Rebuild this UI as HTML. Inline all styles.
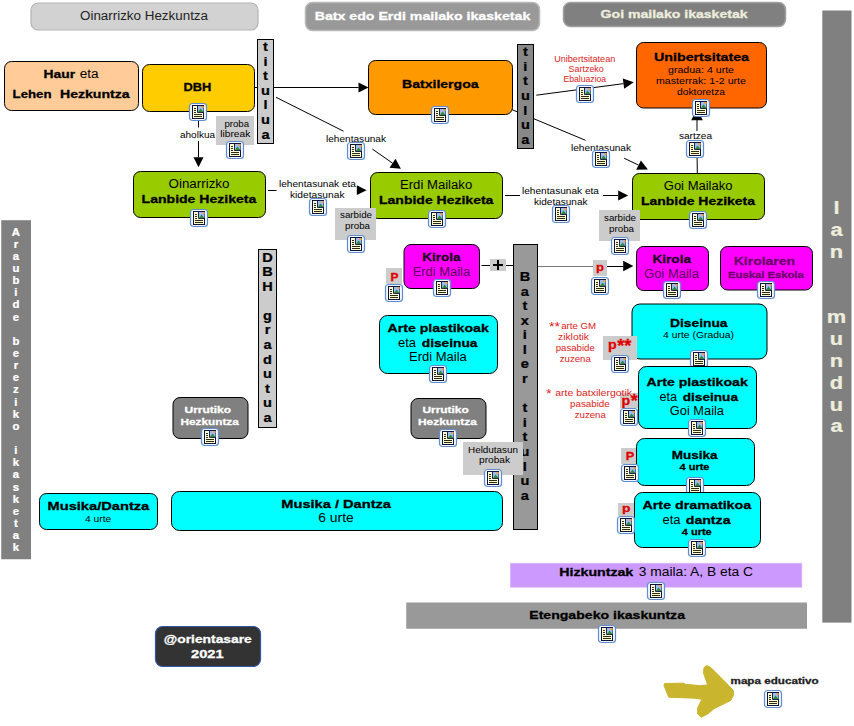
<!DOCTYPE html>
<html><head><meta charset="utf-8"><title>mapa</title>
<style>html,body{margin:0;padding:0;background:#fff}svg{display:block}text{font-family:"Liberation Sans",sans-serif}</style>
</head><body>
<svg width="854" height="726" viewBox="0 0 854 726">
<defs>
<symbol id="ic" width="18" height="18" viewBox="0 0 18 18" overflow="visible">
<rect x="0.5" y="0.5" width="17" height="17" rx="3" ry="3" fill="#f2f8ff" stroke="#5f8dd4" stroke-width="1.2"/>
<rect x="3.5" y="2.5" width="11" height="13" fill="#ffffd6" stroke="#12123c" stroke-width="1"/>
<rect x="9" y="3" width="5.5" height="6" fill="#9dbcf0"/>
<polygon points="9,9 11.5,5.5 14.5,9" fill="#2e8b3a"/>
<rect x="12.5" y="3" width="2" height="2" fill="#f4a040"/>
<path d="M8.5 3V9.5H14.5" fill="none" stroke="#22224a" stroke-width="1"/>
<path d="M5 5.5h2M5 7.5h2M5 9.5h2M5 11.5h8M5 13.5h8" stroke="#2a2a10" stroke-width="1" fill="none"/>
</symbol>
</defs>
<rect width="854" height="726" fill="#fff"/>
<rect x="31.00" y="3.00" width="227.00" height="27.00" rx="7" ry="7" fill="#d2d2d2" stroke="#b4b4b4" stroke-width="1.2"/>
<text x="80.00" y="20.25" textLength="128.00" lengthAdjust="spacingAndGlyphs" font-size="12.42" fill="#222">Oinarrizko Hezkuntza</text>
<rect x="305.50" y="2.50" width="234.00" height="28.00" rx="7" ry="7" fill="#999999" stroke="#b8b8b8" stroke-width="1.5"/>
<text x="314.70" y="19.85" textLength="215.60" lengthAdjust="spacingAndGlyphs" font-size="11.70" font-weight="bold" stroke="#fff" stroke-width="0.3" fill="#fff">Batx edo Erdi mailako ikasketak</text>
<rect x="563.50" y="2.50" width="222.00" height="24.00" rx="7" ry="7" fill="#808080" stroke="#a0a0a0" stroke-width="1.5"/>
<text x="600.60" y="17.65" textLength="147.00" lengthAdjust="spacingAndGlyphs" font-size="11.70" font-weight="bold" stroke="#eeeedd" stroke-width="0.3" fill="#eeeedd">Goi mailako ikasketak</text>
<rect x="1.25" y="220.20" width="29.75" height="339.05" fill="#808080"/>
<text transform="translate(15.90,235.60) scale(1.1,1)" text-anchor="middle" font-size="10.30" font-weight="bold" fill="#fff" stroke="#fff" stroke-width="0.25">A</text>
<text transform="translate(15.90,247.74) scale(1.1,1)" text-anchor="middle" font-size="10.30" font-weight="bold" fill="#fff" stroke="#fff" stroke-width="0.25">r</text>
<text transform="translate(15.90,259.88) scale(1.1,1)" text-anchor="middle" font-size="10.30" font-weight="bold" fill="#fff" stroke="#fff" stroke-width="0.25">a</text>
<text transform="translate(15.90,272.02) scale(1.1,1)" text-anchor="middle" font-size="10.30" font-weight="bold" fill="#fff" stroke="#fff" stroke-width="0.25">u</text>
<text transform="translate(15.90,284.16) scale(1.1,1)" text-anchor="middle" font-size="10.30" font-weight="bold" fill="#fff" stroke="#fff" stroke-width="0.25">b</text>
<text transform="translate(15.90,296.30) scale(1.1,1)" text-anchor="middle" font-size="10.30" font-weight="bold" fill="#fff" stroke="#fff" stroke-width="0.25">i</text>
<text transform="translate(15.90,308.44) scale(1.1,1)" text-anchor="middle" font-size="10.30" font-weight="bold" fill="#fff" stroke="#fff" stroke-width="0.25">d</text>
<text transform="translate(15.90,320.58) scale(1.1,1)" text-anchor="middle" font-size="10.30" font-weight="bold" fill="#fff" stroke="#fff" stroke-width="0.25">e</text>
<text transform="translate(15.90,344.86) scale(1.1,1)" text-anchor="middle" font-size="10.30" font-weight="bold" fill="#fff" stroke="#fff" stroke-width="0.25">b</text>
<text transform="translate(15.90,357.00) scale(1.1,1)" text-anchor="middle" font-size="10.30" font-weight="bold" fill="#fff" stroke="#fff" stroke-width="0.25">e</text>
<text transform="translate(15.90,369.14) scale(1.1,1)" text-anchor="middle" font-size="10.30" font-weight="bold" fill="#fff" stroke="#fff" stroke-width="0.25">r</text>
<text transform="translate(15.90,381.28) scale(1.1,1)" text-anchor="middle" font-size="10.30" font-weight="bold" fill="#fff" stroke="#fff" stroke-width="0.25">e</text>
<text transform="translate(15.90,393.42) scale(1.1,1)" text-anchor="middle" font-size="10.30" font-weight="bold" fill="#fff" stroke="#fff" stroke-width="0.25">z</text>
<text transform="translate(15.90,405.56) scale(1.1,1)" text-anchor="middle" font-size="10.30" font-weight="bold" fill="#fff" stroke="#fff" stroke-width="0.25">i</text>
<text transform="translate(15.90,417.70) scale(1.1,1)" text-anchor="middle" font-size="10.30" font-weight="bold" fill="#fff" stroke="#fff" stroke-width="0.25">k</text>
<text transform="translate(15.90,429.84) scale(1.1,1)" text-anchor="middle" font-size="10.30" font-weight="bold" fill="#fff" stroke="#fff" stroke-width="0.25">o</text>
<text transform="translate(15.90,454.12) scale(1.1,1)" text-anchor="middle" font-size="10.30" font-weight="bold" fill="#fff" stroke="#fff" stroke-width="0.25">i</text>
<text transform="translate(15.90,466.26) scale(1.1,1)" text-anchor="middle" font-size="10.30" font-weight="bold" fill="#fff" stroke="#fff" stroke-width="0.25">k</text>
<text transform="translate(15.90,478.40) scale(1.1,1)" text-anchor="middle" font-size="10.30" font-weight="bold" fill="#fff" stroke="#fff" stroke-width="0.25">a</text>
<text transform="translate(15.90,490.54) scale(1.1,1)" text-anchor="middle" font-size="10.30" font-weight="bold" fill="#fff" stroke="#fff" stroke-width="0.25">s</text>
<text transform="translate(15.90,502.68) scale(1.1,1)" text-anchor="middle" font-size="10.30" font-weight="bold" fill="#fff" stroke="#fff" stroke-width="0.25">k</text>
<text transform="translate(15.90,514.82) scale(1.1,1)" text-anchor="middle" font-size="10.30" font-weight="bold" fill="#fff" stroke="#fff" stroke-width="0.25">e</text>
<text transform="translate(15.90,526.96) scale(1.1,1)" text-anchor="middle" font-size="10.30" font-weight="bold" fill="#fff" stroke="#fff" stroke-width="0.25">t</text>
<text transform="translate(15.90,539.10) scale(1.1,1)" text-anchor="middle" font-size="10.30" font-weight="bold" fill="#fff" stroke="#fff" stroke-width="0.25">a</text>
<text transform="translate(15.90,551.24) scale(1.1,1)" text-anchor="middle" font-size="10.30" font-weight="bold" fill="#fff" stroke="#fff" stroke-width="0.25">k</text>
<rect x="822.30" y="10.50" width="29.20" height="612.10" fill="#808080"/>
<text transform="translate(836.50,214.30) scale(1.18,1)" text-anchor="middle" font-size="18.50" font-weight="bold" fill="#eeeedd" stroke="#eeeedd" stroke-width="0.25">l</text>
<text transform="translate(836.50,236.10) scale(1.18,1)" text-anchor="middle" font-size="18.50" font-weight="bold" fill="#eeeedd" stroke="#eeeedd" stroke-width="0.25">a</text>
<text transform="translate(836.50,257.90) scale(1.18,1)" text-anchor="middle" font-size="18.50" font-weight="bold" fill="#eeeedd" stroke="#eeeedd" stroke-width="0.25">n</text>
<text transform="translate(836.50,323.30) scale(1.18,1)" text-anchor="middle" font-size="18.50" font-weight="bold" fill="#eeeedd" stroke="#eeeedd" stroke-width="0.25">m</text>
<text transform="translate(836.50,345.10) scale(1.18,1)" text-anchor="middle" font-size="18.50" font-weight="bold" fill="#eeeedd" stroke="#eeeedd" stroke-width="0.25">u</text>
<text transform="translate(836.50,366.90) scale(1.18,1)" text-anchor="middle" font-size="18.50" font-weight="bold" fill="#eeeedd" stroke="#eeeedd" stroke-width="0.25">n</text>
<text transform="translate(836.50,388.70) scale(1.18,1)" text-anchor="middle" font-size="18.50" font-weight="bold" fill="#eeeedd" stroke="#eeeedd" stroke-width="0.25">d</text>
<text transform="translate(836.50,410.50) scale(1.18,1)" text-anchor="middle" font-size="18.50" font-weight="bold" fill="#eeeedd" stroke="#eeeedd" stroke-width="0.25">u</text>
<text transform="translate(836.50,432.30) scale(1.18,1)" text-anchor="middle" font-size="18.50" font-weight="bold" fill="#eeeedd" stroke="#eeeedd" stroke-width="0.25">a</text>
<line x1="198.50" y1="112.00" x2="198.50" y2="127.50" stroke="#000" stroke-width="1"/>
<line x1="198.50" y1="141.00" x2="198.50" y2="157.30" stroke="#000" stroke-width="1"/>
<polygon points="198.50,167.30 193.50,157.30 203.50,157.30" fill="#000"/>
<line x1="254.80" y1="87.50" x2="257.00" y2="87.50" stroke="#000" stroke-width="1"/>
<line x1="274.00" y1="87.50" x2="358.50" y2="87.50" stroke="#000" stroke-width="1"/>
<polygon points="368.50,87.50 358.50,92.50 358.50,82.50" fill="#000"/>
<line x1="276.00" y1="97.30" x2="343.50" y2="131.20" stroke="#000" stroke-width="1"/>
<line x1="372.40" y1="149.10" x2="392.50" y2="163.10" stroke="#000" stroke-width="1"/>
<polygon points="395.50,158.80 389.60,167.80 400.90,168.80" fill="#000"/>
<line x1="512.40" y1="109.80" x2="585.50" y2="140.30" stroke="#000" stroke-width="1"/>
<line x1="624.10" y1="158.20" x2="638.50" y2="165.10" stroke="#000" stroke-width="1"/>
<polygon points="640.90,160.50 636.20,169.75 647.90,169.60" fill="#000"/>
<line x1="536.30" y1="95.20" x2="623.49" y2="83.65" stroke="#000" stroke-width="1"/>
<polygon points="633.70,82.30 624.16,88.71 622.82,78.60" fill="#000"/>
<line x1="697.30" y1="173.00" x2="697.10" y2="157.00" stroke="#000" stroke-width="1"/>
<line x1="697.00" y1="131.00" x2="697.00" y2="120.00" stroke="#000" stroke-width="1"/>
<polygon points="697.00,108.50 691.20,120.20 702.80,120.20" fill="#000"/>
<line x1="268.00" y1="190.50" x2="276.50" y2="190.50" stroke="#000" stroke-width="1"/>
<polygon points="366.60,190.20 356.80,185.30 356.80,195.10" fill="#000"/>
<line x1="505.00" y1="195.50" x2="520.00" y2="195.50" stroke="#000" stroke-width="1"/>
<line x1="603.00" y1="195.50" x2="618.20" y2="195.50" stroke="#000" stroke-width="1"/>
<polygon points="628.20,195.50 618.20,200.50 618.20,190.50" fill="#000"/>
<line x1="481.50" y1="265.50" x2="490.00" y2="265.50" stroke="#000" stroke-width="1"/>
<line x1="506.00" y1="265.50" x2="513.50" y2="265.50" stroke="#000" stroke-width="1"/>
<line x1="537.80" y1="266.50" x2="594.00" y2="266.50" stroke="#777" stroke-width="1"/>
<line x1="606.00" y1="266.50" x2="623.50" y2="266.50" stroke="#000" stroke-width="1"/>
<polygon points="633.40,266.00 623.20,260.70 623.20,271.20" fill="#000"/>
<rect x="4.50" y="61.50" width="134.00" height="49.00" rx="7" ry="7" fill="#ffcc99" stroke="#000" stroke-width="1"/>
<text x="43.60" y="78.05" textLength="31.60" lengthAdjust="spacingAndGlyphs" font-size="11.70" font-weight="bold" stroke="#000" stroke-width="0.3" fill="#000">Haur</text>
<text x="79.70" y="78.05" textLength="18.90" lengthAdjust="spacingAndGlyphs" font-size="12.42" fill="#000">eta</text>
<text x="12.60" y="97.95" textLength="38.90" lengthAdjust="spacingAndGlyphs" font-size="11.70" font-weight="bold" stroke="#000" stroke-width="0.3" fill="#000">Lehen</text>
<text x="60.00" y="97.95" textLength="69.60" lengthAdjust="spacingAndGlyphs" font-size="11.70" font-weight="bold" stroke="#000" stroke-width="0.3" fill="#000">Hezkuntza</text>
<rect x="142.50" y="64.50" width="112.00" height="47.00" rx="7" ry="7" fill="#ffcc00" stroke="#000" stroke-width="1"/>
<text x="183.40" y="90.65" textLength="27.80" lengthAdjust="spacingAndGlyphs" font-size="11.70" font-weight="bold" stroke="#000" stroke-width="0.3" fill="#000">DBH</text>
<rect x="368.50" y="60.50" width="144.00" height="54.00" rx="7" ry="7" fill="#ff9900" stroke="#000" stroke-width="1"/>
<text x="402.00" y="87.85" textLength="76.60" lengthAdjust="spacingAndGlyphs" font-size="11.70" font-weight="bold" stroke="#000" stroke-width="0.3" fill="#000">Batxilergoa</text>
<rect x="636.50" y="42.50" width="130.00" height="65.50" rx="7" ry="7" fill="#ff6600" stroke="#000" stroke-width="1"/>
<text x="654.00" y="61.25" textLength="95.00" lengthAdjust="spacingAndGlyphs" font-size="11.70" font-weight="bold" stroke="#000" stroke-width="0.3" fill="#000">Unibertsitatea</text>
<text x="668.00" y="73.05" textLength="66.00" lengthAdjust="spacingAndGlyphs" font-size="9.31" fill="#000">gradua: 4 urte</text>
<text x="656.00" y="83.85" textLength="90.00" lengthAdjust="spacingAndGlyphs" font-size="9.31" fill="#000">masterrak: 1-2 urte</text>
<text x="677.00" y="94.65" textLength="48.00" lengthAdjust="spacingAndGlyphs" font-size="9.31" fill="#000">doktoretza</text>
<rect x="133.50" y="171.50" width="132.00" height="46.00" rx="7" ry="7" fill="#99cc00" stroke="#000" stroke-width="1"/>
<text x="168.60" y="188.05" textLength="60.80" lengthAdjust="spacingAndGlyphs" font-size="12.42" fill="#000">Oinarrizko</text>
<text x="141.60" y="202.85" textLength="114.70" lengthAdjust="spacingAndGlyphs" font-size="11.70" font-weight="bold" stroke="#000" stroke-width="0.3" fill="#000">Lanbide Heziketa</text>
<rect x="370.50" y="172.50" width="132.00" height="46.00" rx="7" ry="7" fill="#99cc00" stroke="#000" stroke-width="1"/>
<text x="400.00" y="188.95" textLength="72.20" lengthAdjust="spacingAndGlyphs" font-size="12.42" fill="#000">Erdi Mailako</text>
<text x="379.00" y="203.85" textLength="114.40" lengthAdjust="spacingAndGlyphs" font-size="11.70" font-weight="bold" stroke="#000" stroke-width="0.3" fill="#000">Lanbide Heziketa</text>
<rect x="632.50" y="173.50" width="132.00" height="46.00" rx="7" ry="7" fill="#99cc00" stroke="#000" stroke-width="1"/>
<text x="663.75" y="189.95" textLength="68.75" lengthAdjust="spacingAndGlyphs" font-size="12.42" fill="#000">Goi Mailako</text>
<text x="641.00" y="204.75" textLength="114.00" lengthAdjust="spacingAndGlyphs" font-size="11.70" font-weight="bold" stroke="#000" stroke-width="0.3" fill="#000">Lanbide Heziketa</text>
<rect x="257.50" y="39.50" width="16.00" height="104.00" fill="#cccccc" stroke="#000" stroke-width="1"/>
<text transform="translate(265.50,50.90) scale(1.12,1)" text-anchor="middle" font-size="13.00" font-weight="bold" fill="#000" stroke="#000" stroke-width="0.25">t</text>
<text transform="translate(265.50,65.50) scale(1.12,1)" text-anchor="middle" font-size="13.00" font-weight="bold" fill="#000" stroke="#000" stroke-width="0.25">i</text>
<text transform="translate(265.50,80.10) scale(1.12,1)" text-anchor="middle" font-size="13.00" font-weight="bold" fill="#000" stroke="#000" stroke-width="0.25">t</text>
<text transform="translate(265.50,94.70) scale(1.12,1)" text-anchor="middle" font-size="13.00" font-weight="bold" fill="#000" stroke="#000" stroke-width="0.25">u</text>
<text transform="translate(265.50,109.30) scale(1.12,1)" text-anchor="middle" font-size="13.00" font-weight="bold" fill="#000" stroke="#000" stroke-width="0.25">l</text>
<text transform="translate(265.50,123.90) scale(1.12,1)" text-anchor="middle" font-size="13.00" font-weight="bold" fill="#000" stroke="#000" stroke-width="0.25">u</text>
<text transform="translate(265.50,138.50) scale(1.12,1)" text-anchor="middle" font-size="13.00" font-weight="bold" fill="#000" stroke="#000" stroke-width="0.25">a</text>
<rect x="517.50" y="44.50" width="16.00" height="104.00" fill="#888888" stroke="#000" stroke-width="1"/>
<text transform="translate(525.40,56.20) scale(1.12,1)" text-anchor="middle" font-size="13.00" font-weight="bold" fill="#000" stroke="#000" stroke-width="0.25">t</text>
<text transform="translate(525.40,70.80) scale(1.12,1)" text-anchor="middle" font-size="13.00" font-weight="bold" fill="#000" stroke="#000" stroke-width="0.25">i</text>
<text transform="translate(525.40,85.40) scale(1.12,1)" text-anchor="middle" font-size="13.00" font-weight="bold" fill="#000" stroke="#000" stroke-width="0.25">t</text>
<text transform="translate(525.40,100.00) scale(1.12,1)" text-anchor="middle" font-size="13.00" font-weight="bold" fill="#000" stroke="#000" stroke-width="0.25">u</text>
<text transform="translate(525.40,114.60) scale(1.12,1)" text-anchor="middle" font-size="13.00" font-weight="bold" fill="#000" stroke="#000" stroke-width="0.25">l</text>
<text transform="translate(525.40,129.20) scale(1.12,1)" text-anchor="middle" font-size="13.00" font-weight="bold" fill="#000" stroke="#000" stroke-width="0.25">u</text>
<text transform="translate(525.40,143.80) scale(1.12,1)" text-anchor="middle" font-size="13.00" font-weight="bold" fill="#000" stroke="#000" stroke-width="0.25">a</text>
<rect x="258.50" y="249.50" width="18.00" height="178.00" fill="#cccccc" stroke="#000" stroke-width="1"/>
<text transform="translate(267.50,261.50) scale(1.12,1)" text-anchor="middle" font-size="13.00" font-weight="bold" fill="#000" stroke="#000" stroke-width="0.25">D</text>
<text transform="translate(267.50,276.08) scale(1.12,1)" text-anchor="middle" font-size="13.00" font-weight="bold" fill="#000" stroke="#000" stroke-width="0.25">B</text>
<text transform="translate(267.50,290.66) scale(1.12,1)" text-anchor="middle" font-size="13.00" font-weight="bold" fill="#000" stroke="#000" stroke-width="0.25">H</text>
<text transform="translate(267.50,319.82) scale(1.12,1)" text-anchor="middle" font-size="13.00" font-weight="bold" fill="#000" stroke="#000" stroke-width="0.25">g</text>
<text transform="translate(267.50,334.40) scale(1.12,1)" text-anchor="middle" font-size="13.00" font-weight="bold" fill="#000" stroke="#000" stroke-width="0.25">r</text>
<text transform="translate(267.50,348.98) scale(1.12,1)" text-anchor="middle" font-size="13.00" font-weight="bold" fill="#000" stroke="#000" stroke-width="0.25">a</text>
<text transform="translate(267.50,363.56) scale(1.12,1)" text-anchor="middle" font-size="13.00" font-weight="bold" fill="#000" stroke="#000" stroke-width="0.25">d</text>
<text transform="translate(267.50,378.14) scale(1.12,1)" text-anchor="middle" font-size="13.00" font-weight="bold" fill="#000" stroke="#000" stroke-width="0.25">u</text>
<text transform="translate(267.50,392.72) scale(1.12,1)" text-anchor="middle" font-size="13.00" font-weight="bold" fill="#000" stroke="#000" stroke-width="0.25">t</text>
<text transform="translate(267.50,407.30) scale(1.12,1)" text-anchor="middle" font-size="13.00" font-weight="bold" fill="#000" stroke="#000" stroke-width="0.25">u</text>
<text transform="translate(267.50,421.88) scale(1.12,1)" text-anchor="middle" font-size="13.00" font-weight="bold" fill="#000" stroke="#000" stroke-width="0.25">a</text>
<rect x="513.50" y="244.50" width="24.00" height="285.00" fill="#999999" stroke="#000" stroke-width="1"/>
<text transform="translate(524.90,281.00) scale(1.12,1)" text-anchor="middle" font-size="13.00" font-weight="bold" fill="#000" stroke="#000" stroke-width="0.25">B</text>
<text transform="translate(524.90,295.58) scale(1.12,1)" text-anchor="middle" font-size="13.00" font-weight="bold" fill="#000" stroke="#000" stroke-width="0.25">a</text>
<text transform="translate(524.90,310.16) scale(1.12,1)" text-anchor="middle" font-size="13.00" font-weight="bold" fill="#000" stroke="#000" stroke-width="0.25">t</text>
<text transform="translate(524.90,324.74) scale(1.12,1)" text-anchor="middle" font-size="13.00" font-weight="bold" fill="#000" stroke="#000" stroke-width="0.25">x</text>
<text transform="translate(524.90,339.32) scale(1.12,1)" text-anchor="middle" font-size="13.00" font-weight="bold" fill="#000" stroke="#000" stroke-width="0.25">i</text>
<text transform="translate(524.90,353.90) scale(1.12,1)" text-anchor="middle" font-size="13.00" font-weight="bold" fill="#000" stroke="#000" stroke-width="0.25">l</text>
<text transform="translate(524.90,368.48) scale(1.12,1)" text-anchor="middle" font-size="13.00" font-weight="bold" fill="#000" stroke="#000" stroke-width="0.25">e</text>
<text transform="translate(524.90,383.06) scale(1.12,1)" text-anchor="middle" font-size="13.00" font-weight="bold" fill="#000" stroke="#000" stroke-width="0.25">r</text>
<text transform="translate(524.90,412.22) scale(1.12,1)" text-anchor="middle" font-size="13.00" font-weight="bold" fill="#000" stroke="#000" stroke-width="0.25">t</text>
<text transform="translate(524.90,426.80) scale(1.12,1)" text-anchor="middle" font-size="13.00" font-weight="bold" fill="#000" stroke="#000" stroke-width="0.25">i</text>
<text transform="translate(524.90,441.38) scale(1.12,1)" text-anchor="middle" font-size="13.00" font-weight="bold" fill="#000" stroke="#000" stroke-width="0.25">t</text>
<text transform="translate(524.90,455.96) scale(1.12,1)" text-anchor="middle" font-size="13.00" font-weight="bold" fill="#000" stroke="#000" stroke-width="0.25">u</text>
<text transform="translate(524.90,470.54) scale(1.12,1)" text-anchor="middle" font-size="13.00" font-weight="bold" fill="#000" stroke="#000" stroke-width="0.25">l</text>
<text transform="translate(524.90,485.12) scale(1.12,1)" text-anchor="middle" font-size="13.00" font-weight="bold" fill="#000" stroke="#000" stroke-width="0.25">u</text>
<text transform="translate(524.90,499.70) scale(1.12,1)" text-anchor="middle" font-size="13.00" font-weight="bold" fill="#000" stroke="#000" stroke-width="0.25">a</text>
<rect x="386.00" y="268.00" width="16.00" height="16.00" fill="#cccccc"/>
<text x="390.50" y="280.85" textLength="8.00" lengthAdjust="spacingAndGlyphs" font-size="11.70" font-weight="bold" stroke="#e00000" stroke-width="0.3" fill="#e00000">P</text>
<rect x="404.00" y="244.50" width="75.50" height="44.00" rx="7" ry="7" fill="#ff00ff" stroke="#000" stroke-width="1"/>
<text x="422.30" y="260.85" textLength="38.20" lengthAdjust="spacingAndGlyphs" font-size="11.70" font-weight="bold" stroke="#1a001a" stroke-width="0.3" fill="#1a001a">Kirola</text>
<text x="412.70" y="275.95" textLength="57.40" lengthAdjust="spacingAndGlyphs" font-size="12.42" fill="#5a005a">Erdi Maila</text>
<rect x="636.50" y="246.50" width="72.00" height="44.00" rx="7" ry="7" fill="#ff00ff" stroke="#000" stroke-width="1"/>
<text x="652.50" y="263.05" textLength="38.50" lengthAdjust="spacingAndGlyphs" font-size="11.70" font-weight="bold" stroke="#1a001a" stroke-width="0.3" fill="#1a001a">Kirola</text>
<text x="644.00" y="278.05" textLength="55.00" lengthAdjust="spacingAndGlyphs" font-size="12.42" fill="#5a005a">Goi Maila</text>
<rect x="720.50" y="246.50" width="92.00" height="43.50" rx="7" ry="7" fill="#ff00ff" stroke="#000" stroke-width="1"/>
<text x="733.75" y="264.75" textLength="61.25" lengthAdjust="spacingAndGlyphs" font-size="11.70" font-weight="bold" stroke="#6a006a" stroke-width="0.3" fill="#6a006a">Kirolaren</text>
<text x="728.00" y="278.05" textLength="75.75" lengthAdjust="spacingAndGlyphs" font-size="9.75" font-weight="bold" stroke="#6a006a" stroke-width="0.3" fill="#6a006a">Euskal Eskola</text>
<rect x="379.50" y="315.50" width="118.00" height="58.00" rx="8" ry="8" fill="#00ffff" stroke="#000" stroke-width="1"/>
<text x="387.50" y="331.90" textLength="101.25" lengthAdjust="spacingAndGlyphs" font-size="11.70" font-weight="bold" stroke="#000" stroke-width="0.3" fill="#000">Arte plastikoak</text>
<text x="398.00" y="346.90" textLength="18.00" lengthAdjust="spacingAndGlyphs" font-size="12.42" fill="#000">eta</text>
<text x="421.75" y="346.90" textLength="55.75" lengthAdjust="spacingAndGlyphs" font-size="11.70" font-weight="bold" stroke="#000" stroke-width="0.3" fill="#000">diseinua</text>
<text x="409.00" y="361.35" textLength="57.75" lengthAdjust="spacingAndGlyphs" font-size="12.42" fill="#000">Erdi Maila</text>
<rect x="632.00" y="304.00" width="135.00" height="55.00" rx="8" ry="8" fill="#00ffff" stroke="#000" stroke-width="1"/>
<text x="670.00" y="326.95" textLength="57.50" lengthAdjust="spacingAndGlyphs" font-size="11.70" font-weight="bold" stroke="#000" stroke-width="0.3" fill="#000">Diseinua</text>
<text x="663.00" y="338.15" textLength="71.00" lengthAdjust="spacingAndGlyphs" font-size="9.31" fill="#000">4 urte (Gradua)</text>
<rect x="603.00" y="336.00" width="34.00" height="24.00" fill="#cccccc"/>
<text x="607.90" y="349.25" textLength="8.70" lengthAdjust="spacingAndGlyphs" font-size="13.65" font-weight="bold" stroke="#e00000" stroke-width="0.3" fill="#e00000">p</text>
<text x="617.30" y="352.05" textLength="14.10" lengthAdjust="spacingAndGlyphs" font-size="18.52" font-weight="bold" stroke="#e00000" stroke-width="0.3" fill="#e00000">**</text>
<rect x="620.00" y="393.00" width="18.00" height="15.00" fill="#cccccc"/>
<text x="621.50" y="405.15" textLength="8.70" lengthAdjust="spacingAndGlyphs" font-size="13.65" font-weight="bold" stroke="#e00000" stroke-width="0.3" fill="#e00000">p</text>
<text x="630.80" y="407.45" textLength="7.00" lengthAdjust="spacingAndGlyphs" font-size="18.52" font-weight="bold" stroke="#e00000" stroke-width="0.3" fill="#e00000">*</text>
<clipPath id="c1"><rect x="680" y="340" width="40" height="26.4"/></clipPath>
<g clip-path="url(#c1)"><use href="#ic" x="690.00" y="350.00"/></g>
<rect x="638.50" y="366.50" width="118.00" height="62.00" rx="8" ry="8" fill="#00ffff" stroke="#000" stroke-width="1"/>
<text x="646.50" y="385.75" textLength="101.25" lengthAdjust="spacingAndGlyphs" font-size="11.70" font-weight="bold" stroke="#000" stroke-width="0.3" fill="#000">Arte plastikoak</text>
<text x="659.50" y="400.95" textLength="17.50" lengthAdjust="spacingAndGlyphs" font-size="12.42" fill="#000">eta</text>
<text x="682.75" y="400.95" textLength="55.25" lengthAdjust="spacingAndGlyphs" font-size="11.70" font-weight="bold" stroke="#000" stroke-width="0.3" fill="#000">diseinua</text>
<text x="669.75" y="415.05" textLength="54.25" lengthAdjust="spacingAndGlyphs" font-size="12.42" fill="#000">Goi Maila</text>
<rect x="621.00" y="448.00" width="18.00" height="16.00" fill="#cccccc"/>
<text x="625.75" y="460.25" textLength="8.50" lengthAdjust="spacingAndGlyphs" font-size="11.70" font-weight="bold" stroke="#e00000" stroke-width="0.3" fill="#e00000">P</text>
<rect x="636.50" y="438.50" width="118.00" height="47.00" rx="8" ry="8" fill="#00ffff" stroke="#000" stroke-width="1"/>
<text x="671.75" y="459.00" textLength="45.75" lengthAdjust="spacingAndGlyphs" font-size="11.70" font-weight="bold" stroke="#000" stroke-width="0.3" fill="#000">Musika</text>
<text x="679.50" y="470.25" textLength="30.00" lengthAdjust="spacingAndGlyphs" font-size="8.78" font-weight="bold" stroke="#000" stroke-width="0.3" fill="#000">4 urte</text>
<use href="#ic" x="686.00" y="477.00"/>
<rect x="618.00" y="503.00" width="16.00" height="13.00" fill="#cccccc"/>
<text x="622.00" y="512.25" textLength="8.50" lengthAdjust="spacingAndGlyphs" font-size="11.70" font-weight="bold" stroke="#e00000" stroke-width="0.3" fill="#e00000">p</text>
<rect x="634.50" y="492.50" width="126.00" height="55.00" rx="8" ry="8" fill="#00ffff" stroke="#000" stroke-width="1"/>
<text x="642.50" y="509.00" textLength="108.75" lengthAdjust="spacingAndGlyphs" font-size="11.70" font-weight="bold" stroke="#000" stroke-width="0.3" fill="#000">Arte dramatikoa</text>
<text x="662.50" y="523.50" textLength="18.00" lengthAdjust="spacingAndGlyphs" font-size="12.42" fill="#000">eta</text>
<text x="685.75" y="523.50" textLength="44.75" lengthAdjust="spacingAndGlyphs" font-size="11.70" font-weight="bold" stroke="#000" stroke-width="0.3" fill="#000">dantza</text>
<text x="681.75" y="534.75" textLength="30.00" lengthAdjust="spacingAndGlyphs" font-size="8.78" font-weight="bold" stroke="#000" stroke-width="0.3" fill="#000">4 urte</text>
<rect x="39.50" y="493.50" width="118.00" height="36.00" rx="7" ry="7" fill="#00ffff" stroke="#000" stroke-width="1"/>
<text x="47.50" y="509.75" textLength="101.75" lengthAdjust="spacingAndGlyphs" font-size="11.70" font-weight="bold" stroke="#000" stroke-width="0.3" fill="#000">Musika/Dantza</text>
<text x="85.00" y="521.50" textLength="26.25" lengthAdjust="spacingAndGlyphs" font-size="9.31" fill="#000">4 urte</text>
<rect x="171.50" y="491.50" width="331.00" height="39.00" rx="8" ry="8" fill="#00ffff" stroke="#000" stroke-width="1"/>
<text x="281.30" y="507.75" textLength="109.70" lengthAdjust="spacingAndGlyphs" font-size="11.70" font-weight="bold" stroke="#000" stroke-width="0.3" fill="#000">Musika / Dantza</text>
<text x="318.20" y="522.25" textLength="35.60" lengthAdjust="spacingAndGlyphs" font-size="12.42" fill="#000">6 urte</text>
<rect x="173.00" y="397.50" width="75.00" height="41.00" rx="7" ry="7" fill="#808080" stroke="#000" stroke-width="1"/>
<text x="184.50" y="412.75" textLength="46.50" lengthAdjust="spacingAndGlyphs" font-size="9.75" font-weight="bold" stroke="#fff" stroke-width="0.3" fill="#fff">Urrutiko</text>
<text x="180.50" y="424.75" textLength="58.25" lengthAdjust="spacingAndGlyphs" font-size="9.75" font-weight="bold" stroke="#fff" stroke-width="0.3" fill="#fff">Hezkuntza</text>
<rect x="411.00" y="398.50" width="75.00" height="40.00" rx="7" ry="7" fill="#808080" stroke="#000" stroke-width="1"/>
<text x="422.50" y="413.25" textLength="46.25" lengthAdjust="spacingAndGlyphs" font-size="9.75" font-weight="bold" stroke="#fff" stroke-width="0.3" fill="#fff">Urrutiko</text>
<text x="418.00" y="425.25" textLength="58.75" lengthAdjust="spacingAndGlyphs" font-size="9.75" font-weight="bold" stroke="#fff" stroke-width="0.3" fill="#fff">Hezkuntza</text>
<rect x="155.50" y="626.50" width="105.00" height="40.00" rx="7" ry="7" fill="#333333" stroke="#3355aa" stroke-width="1.2"/>
<text x="163.75" y="643.05" textLength="88.05" lengthAdjust="spacingAndGlyphs" font-size="11.70" font-weight="bold" stroke="#fff" stroke-width="0.3" fill="#fff">@orientasare</text>
<text x="191.00" y="657.75" textLength="32.60" lengthAdjust="spacingAndGlyphs" font-size="11.70" font-weight="bold" stroke="#fff" stroke-width="0.3" fill="#fff">2021</text>
<rect x="510.40" y="563.30" width="291.40" height="23.90" fill="#cc99ff" stroke="#d9b3ff" stroke-width="0.8"/>
<text x="559.25" y="575.85" textLength="74.00" lengthAdjust="spacingAndGlyphs" font-size="11.70" font-weight="bold" stroke="#000" stroke-width="0.3" fill="#000">Hizkuntzak</text>
<text x="638.75" y="575.85" textLength="114.25" lengthAdjust="spacingAndGlyphs" font-size="12.42" fill="#000">3 maila: A, B eta C</text>
<rect x="406.25" y="602.50" width="400.75" height="26.25" fill="#999999"/>
<text x="529.25" y="618.50" textLength="155.75" lengthAdjust="spacingAndGlyphs" font-size="11.70" font-weight="bold" stroke="#000" stroke-width="0.3" fill="#000">Etengabeko ikaskuntza</text>
<rect x="216.00" y="116.00" width="38.00" height="29.00" fill="#cccccc"/>
<text x="224.50" y="126.50" textLength="24.50" lengthAdjust="spacingAndGlyphs" font-size="9.31" fill="#000">proba</text>
<text x="220.25" y="137.25" textLength="30.00" lengthAdjust="spacingAndGlyphs" font-size="9.31" fill="#000">libreak</text>
<rect x="335.00" y="208.00" width="41.00" height="32.00" fill="#cccccc"/>
<text x="340.00" y="218.25" textLength="32.00" lengthAdjust="spacingAndGlyphs" font-size="9.31" fill="#000">sarbide</text>
<text x="345.00" y="229.25" textLength="25.00" lengthAdjust="spacingAndGlyphs" font-size="9.31" fill="#000">proba</text>
<rect x="599.00" y="210.00" width="41.00" height="31.00" fill="#cccccc"/>
<text x="604.00" y="221.00" textLength="32.00" lengthAdjust="spacingAndGlyphs" font-size="9.31" fill="#000">sarbide</text>
<text x="609.00" y="232.00" textLength="25.00" lengthAdjust="spacingAndGlyphs" font-size="9.31" fill="#000">proba</text>
<rect x="490.00" y="259.00" width="16.00" height="12.00" fill="#cccccc"/>
<rect x="493.00" y="264.00" width="10.00" height="2.00" fill="#000"/>
<rect x="497.00" y="260.00" width="2.00" height="10.00" fill="#000"/>
<rect x="593.00" y="260.00" width="14.00" height="16.00" fill="#cccccc"/>
<text x="596.00" y="271.25" textLength="8.00" lengthAdjust="spacingAndGlyphs" font-size="11.70" font-weight="bold" stroke="#e00000" stroke-width="0.3" fill="#e00000">p</text>
<rect x="463.00" y="442.00" width="60.00" height="33.00" fill="#cccccc"/>
<text x="468.00" y="452.75" textLength="50.00" lengthAdjust="spacingAndGlyphs" font-size="9.31" fill="#000">Heldutasun</text>
<text x="479.00" y="463.25" textLength="31.00" lengthAdjust="spacingAndGlyphs" font-size="9.31" fill="#000">probak</text>
<text x="180.00" y="137.75" textLength="35.00" lengthAdjust="spacingAndGlyphs" font-size="9.31" fill="#000">aholkua</text>
<text x="326.00" y="141.90" textLength="60.00" lengthAdjust="spacingAndGlyphs" font-size="9.31" fill="#000">lehentasunak</text>
<text x="554.20" y="61.75" textLength="61.10" lengthAdjust="spacingAndGlyphs" font-size="8.28" fill="#dc2222">Unibertsitatean</text>
<text x="568.60" y="72.05" textLength="35.20" lengthAdjust="spacingAndGlyphs" font-size="8.28" fill="#dc2222">Sartzeko</text>
<text x="563.40" y="81.55" textLength="42.80" lengthAdjust="spacingAndGlyphs" font-size="8.28" fill="#dc2222">Ebaluazioa</text>
<text x="571.00" y="150.65" textLength="60.00" lengthAdjust="spacingAndGlyphs" font-size="9.31" fill="#000">lehentasunak</text>
<text x="679.00" y="139.25" textLength="33.00" lengthAdjust="spacingAndGlyphs" font-size="9.31" fill="#000">sartzea</text>
<text x="279.00" y="186.55" textLength="77.00" lengthAdjust="spacingAndGlyphs" font-size="9.31" fill="#000">lehentasunak eta</text>
<text x="290.00" y="197.55" textLength="54.50" lengthAdjust="spacingAndGlyphs" font-size="9.31" fill="#000">kidetasunak</text>
<text x="522.00" y="193.95" textLength="77.00" lengthAdjust="spacingAndGlyphs" font-size="9.31" fill="#000">lehentasunak eta</text>
<text x="534.00" y="204.95" textLength="53.50" lengthAdjust="spacingAndGlyphs" font-size="9.31" fill="#000">kidetasunak</text>
<text x="549.00" y="331.45" textLength="11.20" lengthAdjust="spacingAndGlyphs" font-size="12.94" fill="#dc2222">**</text>
<text x="561.20" y="328.95" textLength="34.80" lengthAdjust="spacingAndGlyphs" font-size="9.31" fill="#dc2222">arte GM</text>
<text x="558.00" y="339.85" textLength="31.00" lengthAdjust="spacingAndGlyphs" font-size="9.31" fill="#dc2222">ziklotik</text>
<text x="555.75" y="350.95" textLength="39.00" lengthAdjust="spacingAndGlyphs" font-size="9.31" fill="#dc2222">pasabide</text>
<text x="559.75" y="361.65" textLength="31.00" lengthAdjust="spacingAndGlyphs" font-size="9.31" fill="#dc2222">zuzena</text>
<text x="546.20" y="398.45" textLength="5.20" lengthAdjust="spacingAndGlyphs" font-size="12.94" fill="#dc2222">*</text>
<text x="555.30" y="395.95" textLength="76.70" lengthAdjust="spacingAndGlyphs" font-size="9.31" fill="#dc2222">arte batxilergotik</text>
<text x="570.00" y="406.95" textLength="39.75" lengthAdjust="spacingAndGlyphs" font-size="9.31" fill="#dc2222">pasabide</text>
<text x="574.75" y="417.85" textLength="31.00" lengthAdjust="spacingAndGlyphs" font-size="9.31" fill="#dc2222">zuzena</text>
<text x="730.50" y="684.00" textLength="88.25" lengthAdjust="spacingAndGlyphs" font-size="9.75" font-weight="bold" stroke="#222" stroke-width="0.3" fill="#222">mapa educativo</text>
<polygon points="664.5,683.5 683.5,683.2 685.6,684.3 699.3,685.6 707.7,685 703.5,672.9 704,667.6 706.6,665.5 710.9,667.6 728.8,685.6 733.5,690.8 733.5,695 730.9,700.3 714,708.7 707.7,714 701.4,717.2 697.7,714 697.7,707.7 701.9,699.3 695,698.2 668.7,697.2 666.6,691.9 664,685.6" fill="#c9b52e" stroke="#c9b52e" stroke-width="1" stroke-linejoin="round"/>
<use href="#ic" x="189.00" y="103.00"/>
<use href="#ic" x="226.00" y="141.00"/>
<use href="#ic" x="347.00" y="142.00"/>
<use href="#ic" x="431.00" y="106.00"/>
<use href="#ic" x="576.00" y="85.00"/>
<use href="#ic" x="592.00" y="150.00"/>
<use href="#ic" x="692.00" y="99.00"/>
<use href="#ic" x="686.00" y="140.00"/>
<use href="#ic" x="190.00" y="209.00"/>
<use href="#ic" x="309.00" y="198.00"/>
<use href="#ic" x="347.00" y="235.00"/>
<use href="#ic" x="428.00" y="210.00"/>
<use href="#ic" x="552.00" y="205.00"/>
<use href="#ic" x="611.00" y="237.00"/>
<use href="#ic" x="689.00" y="211.00"/>
<use href="#ic" x="385.00" y="284.00"/>
<use href="#ic" x="433.00" y="279.00"/>
<use href="#ic" x="591.00" y="277.00"/>
<use href="#ic" x="663.00" y="281.00"/>
<use href="#ic" x="757.00" y="281.00"/>
<use href="#ic" x="611.00" y="355.00"/>
<use href="#ic" x="620.00" y="408.00"/>
<use href="#ic" x="688.00" y="419.00"/>
<use href="#ic" x="429.00" y="365.00"/>
<use href="#ic" x="201.00" y="428.00"/>
<use href="#ic" x="439.00" y="429.00"/>
<use href="#ic" x="484.00" y="469.00"/>
<use href="#ic" x="621.00" y="464.00"/>
<use href="#ic" x="617.00" y="516.00"/>
<use href="#ic" x="688.00" y="539.00"/>
<use href="#ic" x="647.00" y="582.00"/>
<use href="#ic" x="598.00" y="625.00"/>
<use href="#ic" x="764.00" y="690.00"/>
</svg>
</body></html>
